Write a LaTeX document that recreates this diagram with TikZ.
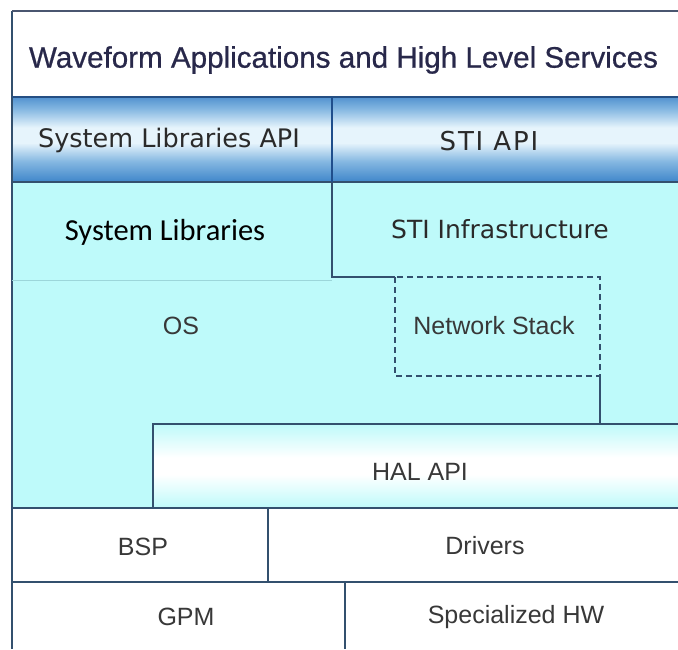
\documentclass[tikz,border=0pt]{standalone}
\usepackage{fontspec}
\newfontfamily\arialf{Liberation Sans}
\newfontfamily\titlef[FakeBold=0.7]{Liberation Sans}
\newfontfamily\dejavuf{DejaVu Sans}
\newfontfamily\dejavusp[LetterSpace=7]{DejaVu Sans}
\newfontfamily\calibf{Carlito}
\definecolor{edge}{HTML}{33506E}
\definecolor{topedge}{HTML}{4A5670}
\definecolor{apiedge}{HTML}{1F4E8C}
\definecolor{aqua}{HTML}{BEFAFA}
\definecolor{bluedark}{HTML}{3F86CA}
\definecolor{bluemid}{HTML}{84B7E1}
\definecolor{bluelight}{HTML}{E6F4FC}
\definecolor{navytext}{HTML}{28284A}
\definecolor{darktext}{HTML}{2A2A2A}
\definecolor{graytext}{HTML}{383838}
\definecolor{faint}{HTML}{9CD6DA}
\pgfdeclareverticalshading{apishade}{100bp}{color(0bp)=(bluedark); color(25bp)=(bluedark); color(37bp)=(bluemid); color(48bp)=(bluelight); color(57bp)=(bluelight); color(68bp)=(bluemid); color(75bp)=(bluedark!90!white); color(100bp)=(bluedark!90!white)}
\pgfdeclareverticalshading{halshade}{100bp}{color(0bp)=(aqua); color(25bp)=(aqua); color(45bp)=(white); color(55bp)=(white); color(75bp)=(aqua); color(100bp)=(aqua)}
\tikzset{
  border/.style={draw=edge, line width=1.5pt},
  dashbox/.style={draw=edge, line width=1.4pt, dash pattern=on 6pt off 4pt},
  titletext/.style={font=\titlef\fontsize{29.6}{34}\selectfont, text=navytext, inner sep=0pt},
  apitext/.style={font=\dejavuf\fontsize{25.5}{30}\selectfont, text=darktext, inner sep=0pt},
  apispaced/.style={font=\dejavusp\fontsize{26}{30}\selectfont, text=darktext, inner sep=0pt},
  infratext/.style={font=\dejavuf\fontsize{25}{30}\selectfont, text=darktext, inner sep=0pt},
  callitext/.style={font=\calibf\fontsize{30.5}{36}\selectfont, text=black, inner sep=0pt},
  plaintext/.style={font=\arialf\fontsize{25}{30}\selectfont, text=graytext, inner sep=0pt},
}
\begin{document}
\begin{tikzpicture}[x=1pt,y=-1pt]
\useasboundingbox (0,0) rectangle (678,649);
\fill[white] (0,0) rectangle (678,649);
% fills
\fill[white] (12,11) rectangle (678,97);
\shade[shading=apishade] (12,97) rectangle (678,182);
\fill[aqua] (12,182) rectangle (678,508);
\shade[shading=halshade] (153,424) rectangle (678,508);
\fill[white] (12,508) rectangle (678,649);
% coordinates
\coordinate (tl) at (12,11);
\coordinate (tr) at (678,11);
\coordinate (bl) at (12,649);
% lines
\draw[border] (12,11) -- (12,649);
\draw[draw=topedge, line width=2pt] (tr) -- (tl);
\draw[draw=apiedge!70!edge, line width=1.5pt] (12,97) -- (678,97);
\draw[border] (12,182) -- (678,182);
\draw[draw=apiedge, line width=1.5pt] (332,97) -- (332,182);
\draw[border] (332,182) -- (332,277) -- (395,277);
\draw[faint, line width=1pt] (12,280) -- (332,280);
\draw[dashbox] (395,277) rectangle (600,376);
\draw[border] (600,376) -- (600,424);
\draw[border] (153,508) -- (153,424) -- (678,424);
\draw[border] (12,508) -- (678,508);
\draw[border] (268,508) -- (268,582);
\draw[border] (12,582) -- (678,582);
\draw[border] (345,582) -- (345,649);
% texts
\node[titletext] (wave) at (343.5,60) {Waveform Applications and High Level Services};
\node[apitext] (slapi) at (169,140) {System Libraries API};
\node[apispaced] (stiapi) at (489,141) {STI API};
\node[callitext] (sl) at (165,232) {System Libraries};
\node[infratext] (stiinf) at (500,229) {STI Infrastructure};
\node[plaintext] (os) at (181,326) {OS};
\node[plaintext] (net) at (494,326) {Network Stack};
\node[plaintext] (hal) at (420,472) {HAL API};
\node[plaintext] (bsp) at (143,547) {BSP};
\node[plaintext] (drv) at (485,546) {Drivers};
\node[plaintext] (gpm) at (186,617) {GPM};
\node[plaintext] (shw) at (516,617) {Specialized HW};
\end{tikzpicture}
\end{document}
